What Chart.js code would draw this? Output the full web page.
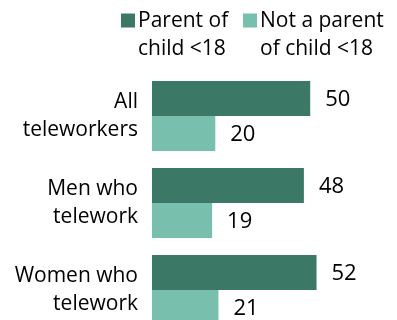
<!DOCTYPE html>
<html>
<head>
<meta charset="utf-8">
<script src="https://cdn.jsdelivr.net/npm/chart.js@4/dist/chart.umd.min.js"></script>
<style>
  html, body { margin: 0; padding: 0; background: #fff; overflow: hidden; }
  #wrap { width: 397px; height: 320px; overflow: hidden; }
</style>
</head>
<body>
<div id="wrap"><canvas id="teleworkChart" width="397" height="340"></canvas></div>
<script>
var groups = [['All', 'teleworkers'], ['Men who', 'telework'], ['Women who', 'telework']];
var parentValues = [50, 48, 52];
var nonParentValues = [20, 19, 21];
var seriesNames = [['Parent of', 'child <18'], ['Not a parent', 'of child <18']];

var darkGreen = '#3b7866';
var lightGreen = '#78c0ad';
var fontFamily = '"Open Sans", "Liberation Sans", sans-serif';

// legend squares with two-line captions above the plot
var legendPlugin = {
  id: 'topLegend',
  afterDraw: function(chart) {
    var ctx = chart.ctx;
    var xs = [121, 243];
    ctx.save();
    ctx.font = '21px ' + fontFamily;
    ctx.textAlign = 'left';
    ctx.textBaseline = 'alphabetic';
    chart.data.datasets.forEach(function(ds, i) {
      ctx.fillStyle = ds.backgroundColor;
      ctx.fillRect(xs[i], 13.5, 14, 14);
      ctx.fillStyle = '#000';
      ds.label.forEach(function(line, j) {
        ctx.fillText(line, xs[i] + 17, 27 + j * 27.5);
      });
    });
    ctx.restore();
  }
};

// numbers to the right of each bar
var valuePlugin = {
  id: 'barValues',
  afterDatasetsDraw: function(chart) {
    var ctx = chart.ctx;
    ctx.save();
    ctx.font = '22px ' + fontFamily;
    ctx.fillStyle = '#000';
    ctx.textAlign = 'left';
    ctx.textBaseline = 'middle';
    chart.data.datasets.forEach(function(ds, i) {
      chart.getDatasetMeta(i).data.forEach(function(bar, j) {
        ctx.fillText(ds.data[j], bar.x + 15, bar.y + 1);
      });
    });
    ctx.restore();
  }
};

var ctx = document.getElementById('teleworkChart');
var chart = new Chart(ctx, {
  type: 'bar',
  data: {
    labels: groups,
    datasets: [
      { label: seriesNames[0], data: parentValues, backgroundColor: darkGreen },
      { label: seriesNames[1], data: nonParentValues, backgroundColor: lightGreen }
    ]
  },
  options: {
    indexAxis: 'y',
    responsive: false,
    animation: false,
    devicePixelRatio: 1,
    layout: { padding: { top: 72.4, bottom: 6.6, left: 0, right: 23.5 } },
    datasets: { bar: { categoryPercentage: 0.805, barPercentage: 1.0, borderWidth: 0 } },
    plugins: {
      legend: { display: false },
      tooltip: { enabled: false }
    },
    scales: {
      x: {
        display: false,
        min: 0,
        max: 70
      },
      y: {
        afterFit: function(scale) {
          scale.width = 152;
          // the two-line labels sit inside their bands, no extra room needed
          scale.paddingTop = 0;
          scale.paddingBottom = 0;
        },
        grid: { display: false, drawTicks: false },
        border: { display: false },
        ticks: {
          color: '#000',
          padding: 14,
          font: { family: fontFamily, size: 21, lineHeight: 1.3 }
        }
      }
    }
  },
  plugins: [legendPlugin, valuePlugin]
});
</script>
</body>
</html>
